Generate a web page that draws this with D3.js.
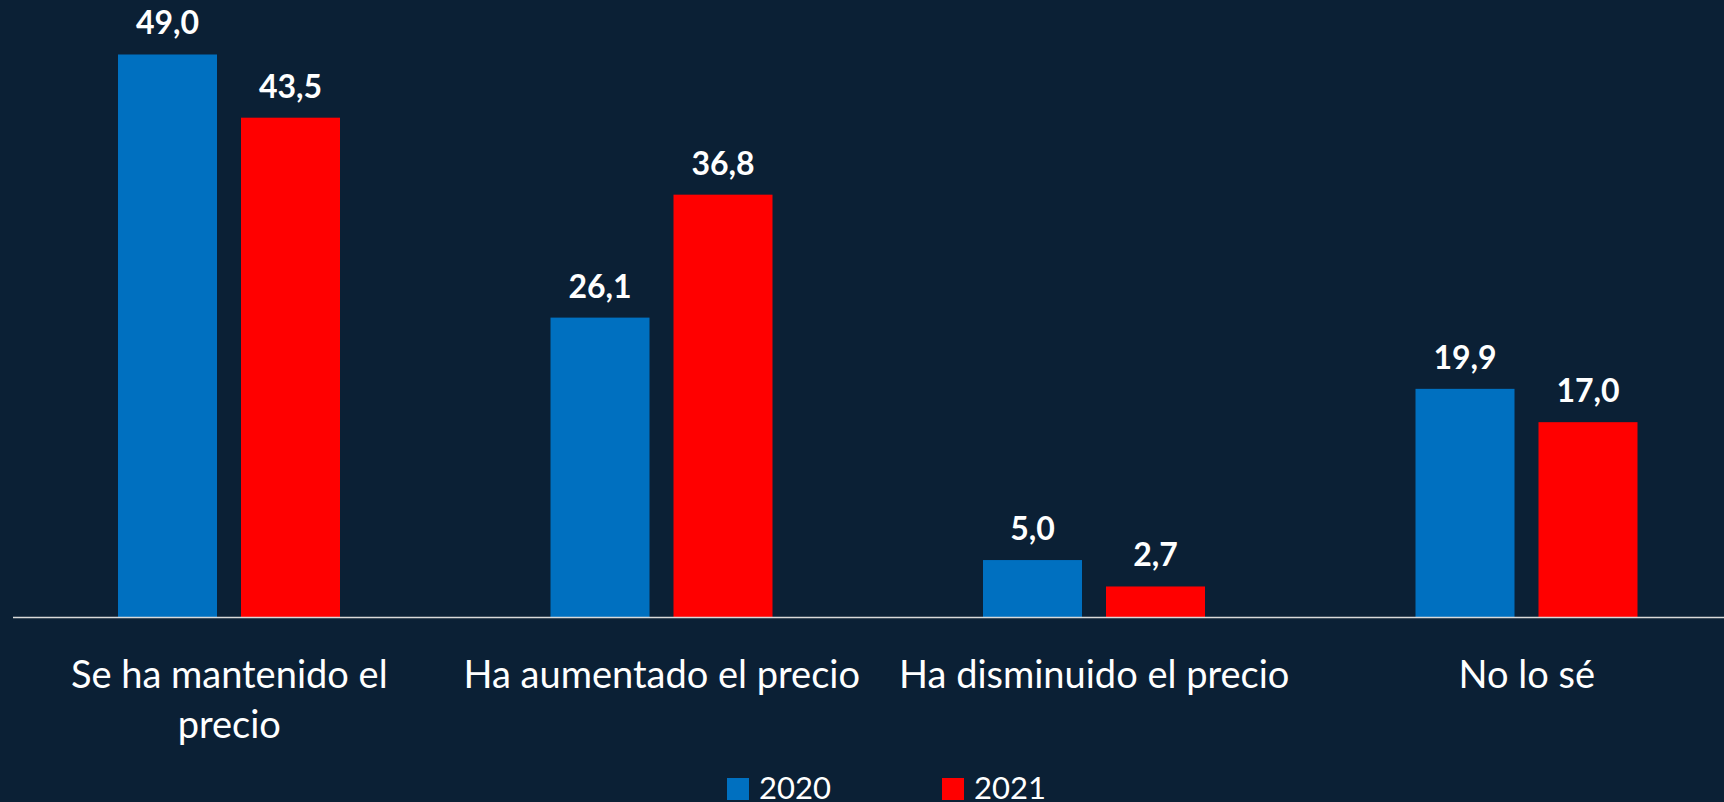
<!DOCTYPE html>
<html>
<head>
<meta charset="utf-8">
<script src="https://cdn.jsdelivr.net/npm/d3@7"></script>
<style>
  html, body { margin: 0; padding: 0; background: #0b2035; }
  svg { display: block; }
</style>
</head>
<body>
<div id="chart"></div>
<script>
// Precio percibido, 2020 vs 2021

var categories = ['Se ha mantenido el precio', 'Ha aumentado el precio', 'Ha disminuido el precio', 'No lo sé'];
var series = ['2020', '2021'];
var values2020 = [49.0, 26.1, 5.0, 19.9];
var values2021 = [43.5, 36.8, 2.7, 17.0];
var colors = ['#0070c0', '#ff0000'];

var svgWidth = 1724;
var svgHeight = 802;
var baseY = 617.5;

var svg = d3.select('#chart').append('svg')
    .attr('width', svgWidth)
    .attr('height', svgHeight);

svg.append('rect')
    .attr('width', svgWidth)
    .attr('height', svgHeight)
    .attr('fill', '#0b2035');

var data = categories.map(function(c, i) {
    return { cat: c, vals: [values2020[i], values2021[i]] };
});

var x0 = d3.scaleBand()
    .domain(categories)
    .range([13, 1743]);

var x1 = d3.scaleBand()
    .domain(series)
    .range([105, 327])
    .paddingInner(0.195);

var y = d3.scaleLinear()
    .domain([0, 50])
    .range([baseY, baseY - 50 * 11.49]);

var groups = svg.selectAll('g.group')
    .data(data)
    .enter().append('g')
    .attr('class', 'group')
    .attr('transform', function(d) { return 'translate(' + x0(d.cat) + ',0)'; });

groups.selectAll('rect')
    .data(function(d) { return d.vals.map(function(v, i) { return { s: series[i], v: v, i: i }; }); })
    .enter().append('rect')
    .attr('x', function(d) { return x1(d.s); })
    .attr('y', function(d) { return y(d.v); })
    .attr('width', x1.bandwidth())
    .attr('height', function(d) { return baseY - y(d.v); })
    .attr('fill', function(d) { return colors[d.i]; });

groups.selectAll('text.val')
    .data(function(d) { return d.vals.map(function(v, i) { return { s: series[i], v: v }; }); })
    .enter().append('text')
    .attr('class', 'val')
    .attr('x', function(d) { return x1(d.s) + x1.bandwidth() / 2; })
    .attr('y', function(d) { return y(d.v) - 20; })
    .attr('text-anchor', 'middle')
    .attr('fill', 'white')
    .style('font-family', 'Lato, sans-serif')
    .style('font-weight', 'bold')
    .style('font-size', '32px')
    .text(function(d) { return d.v.toFixed(1).replace('.', ','); });

// axis
var xAxis = d3.axisBottom(x0).tickSize(0).tickPadding(0);

var axisG = svg.append('g')
    .attr('transform', 'translate(0,' + baseY + ')')
    .call(xAxis);

axisG.select('.domain')
    .attr('stroke', '#d9d9d9')
    .attr('stroke-width', 1.5)
    .attr('d', 'M13,0H' + svgWidth);

axisG.selectAll('.tick text')
    .attr('fill', 'white')
    .style('font-family', 'Lato, sans-serif')
    .style('font-size', '38px')
    .call(wrap, 420);

function wrap(sel, width) {
    sel.each(function() {
        var text = d3.select(this);
        var words = text.text().split(/\s+/);
        text.text(null);
        var line = [];
        var lineNo = 0;
        var tspan = text.append('tspan').attr('x', 0).attr('y', 70);
        words.forEach(function(w) {
            line.push(w);
            tspan.text(line.join(' '));
            if (tspan.node().getComputedTextLength() > width && line.length > 1) {
                line.pop();
                tspan.text(line.join(' '));
                line = [w];
                lineNo++;
                tspan = text.append('tspan').attr('x', 0).attr('y', 70 + lineNo * 50).text(w);
            }
        });
        text.attr('dy', null);
    });
}

// legend
var legendX = [727, 942];
var legend = svg.selectAll('g.legend')
    .data(series)
    .enter().append('g')
    .attr('class', 'legend')
    .attr('transform', function(d, i) { return 'translate(' + legendX[i] + ',778)'; });

legend.append('rect')
    .attr('width', 22)
    .attr('height', 22)
    .attr('fill', function(d, i) { return colors[i]; });

legend.append('text')
    .attr('x', 32)
    .attr('y', 21)
    .attr('fill', 'white')
    .style('font-family', 'Lato, sans-serif')
    .style('font-size', '31px')
    .text(function(d) { return d; });
</script>
</body>
</html>
